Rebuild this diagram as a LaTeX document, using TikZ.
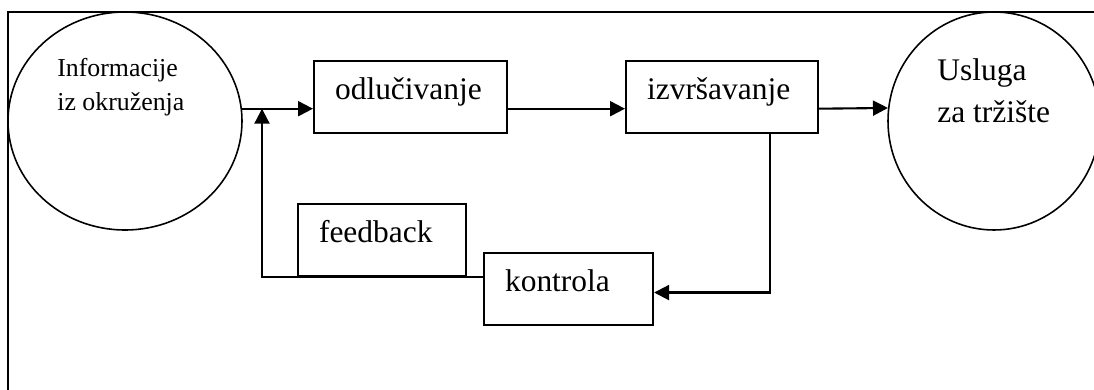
\documentclass[tikz,border=0pt]{standalone}
\usepackage{fontspec}
\setmainfont{Liberation Serif}
\usepackage{tikz}
\usetikzlibrary{shapes.geometric}
\usetikzlibrary{arrows.meta}
\tikzstyle{blok}=[draw, line width=1.2pt, anchor=north west, align=left, inner xsep=0.42cm, inner ysep=0pt, text height=0.76cm, text depth=0.68cm, font=\fontsize{17.9}{24.4}\selectfont]
\tikzstyle{krug}=[draw, ellipse, line width=0.9pt, inner sep=0pt]
\tikzstyle{tekst}=[anchor=base west, align=left, inner sep=0pt]
\tikzstyle{tok}=[line width=1.2pt, -{Triangle[length=0.3cm, width=0.3cm]}]

\begin{document}
\begin{tikzpicture}
        \clip (0, 0) rectangle (21.88, 7.8);
        \draw[line width=1.2pt] (0.16, 7.56) rectangle (22.5, -1);
        \node[krug, minimum width=4.68cm, minimum height=4.36cm] (inf) at (2.5, 5.38) {};
        \node[krug, minimum width=4.24cm, minimum height=4.36cm] (usl) at (19.88, 5.38) {};
        \node[tekst, font=\fontsize{14.7}{19.6}\selectfont] (inftxt) at (1.14, 5.58) {Informacije\\iz okruženja};
        \node[tekst, font=\fontsize{17.9}{24.4}\selectfont] (usltxt) at (18.74, 5.34) {Usluga\\za tržište};
        \node[blok, text width=3.02cm] (odl) at (6.26, 6.6) {odlučivanje};
        \node[blok, text width=3cm] (izv) at (12.5, 6.6) {izvršavanje};
        \node[blok, text width=2.52cm] (fb) at (5.94, 3.74) {feedback};
        \node[blok, text width=2.54cm] (kon) at (9.66, 2.76) {kontrola};
        \coordinate (jn) at (5.24, 0);
        \draw[tok] (inf.6.4) -- (inf.6.4 -| odl.west);
        \draw[tok] (odl.east |- inf.6.4) -- (izv.west |- inf.6.4);
        \draw[tok] (izv.east |- inf.6.4) -- (usl.173);
        \draw[tok] ([xshift=-0.98cm]izv.south east) |- ([yshift=-0.07cm]kon.east);
        \draw[tok] (kon.west |- fb.south) -- (jn |- fb.south) -- (jn |- inf.6.4);
    \end{tikzpicture}
\end{document}
